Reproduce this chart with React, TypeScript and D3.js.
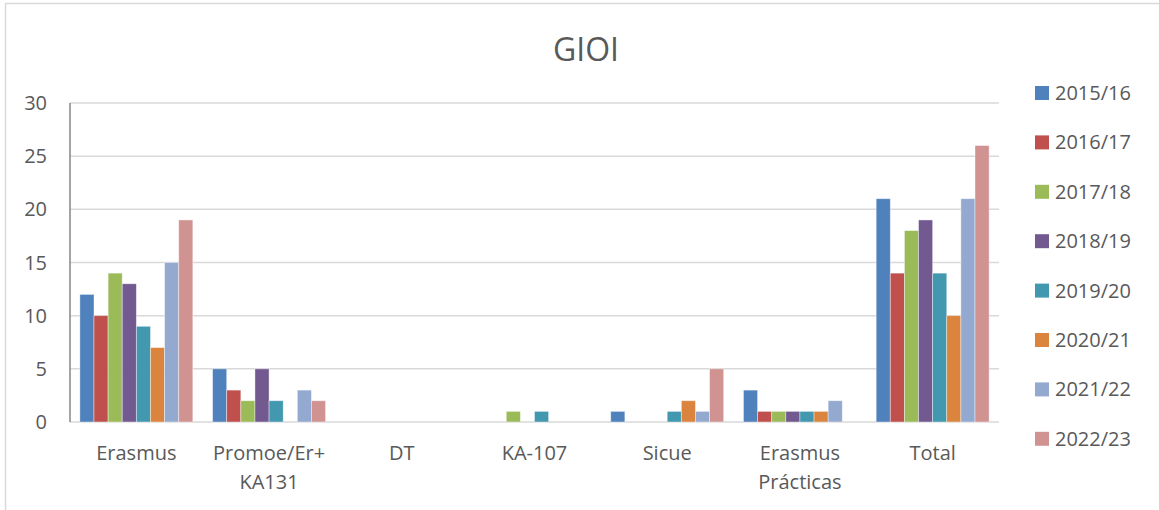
import React, { useEffect, useRef } from "react";
import * as d3 from "d3";

const categories = ["Erasmus", "Promoe/Er+\nKA131", "DT", "KA-107", "Sicue", "Erasmus\nPrácticas", "Total"];
const seriesNames = ["2015/16", "2016/17", "2017/18", "2018/19", "2019/20", "2020/21", "2021/22", "2022/23"];
const seriesColors = ["#4F81BD", "#C0504D", "#9BBB59", "#72598F", "#4198AF", "#DB843D", "#93A9CF", "#D19392"];
const values2015 = [12, 5, 0, 0, 1, 3, 21];
const values2016 = [10, 3, 0, 0, 0, 1, 14];
const values2017 = [14, 2, 0, 1, 0, 1, 18];
const values2018 = [13, 5, 0, 0, 0, 1, 19];
const values2019 = [9, 2, 0, 1, 1, 1, 14];
const values2020 = [7, 0, 0, 0, 2, 1, 10];
const values2021 = [15, 3, 0, 0, 1, 2, 21];
const values2022 = [19, 2, 0, 0, 5, 0, 26];
const yTicks = [0, 5, 10, 15, 20, 25, 30];

const seriesValues = [values2015, values2016, values2017, values2018, values2019, values2020, values2021, values2022];

const W = 1159;
const H = 510;
const FONT = "'Open Sans', 'Noto Sans', sans-serif";

export default function App() {
  const svgRef = useRef<SVGSVGElement>(null);

  useEffect(() => {
    if (!svgRef.current) return;
    const svg = d3.select(svgRef.current);
    svg.selectAll("*").remove();

    const plot = { left: 70, right: 999, top: 103, bottom: 422 };

    // chart frame
    svg.append("rect")
      .attr("x", 5.5).attr("y", 3.5)
      .attr("width", W + 20).attr("height", H + 20)
      .attr("fill", "#fff")
      .attr("stroke", "#d9d9d9").attr("stroke-width", 1.5);

    const x0 = d3.scaleBand<string>()
      .domain(categories)
      .range([plot.left, plot.right])
      .paddingInner(0);

    const x1 = d3.scaleBand<string>()
      .domain(seriesNames)
      .range([0, x0.bandwidth()])
      .paddingInner(0)
      .paddingOuter(0.7);

    const y = d3.scaleLinear().domain([0, 30]).range([plot.bottom, plot.top]);

    // grid
    svg.append("g")
      .selectAll("line")
      .data(yTicks)
      .enter()
      .append("line")
      .attr("x1", plot.left).attr("x2", plot.right)
      .attr("y1", d => y(d)).attr("y2", d => y(d))
      .attr("stroke", "#d9d9d9")
      .attr("stroke-width", 1.5);

    // y labels
    svg.append("g")
      .selectAll("text")
      .data(yTicks)
      .enter()
      .append("text")
      .attr("x", 47)
      .attr("y", d => y(d))
      .attr("dy", "0.35em")
      .attr("text-anchor", "end")
      .attr("fill", "#595959")
      .style("font-family", FONT)
      .style("font-size", "20px")
      .text(d => d);

    // bars
    const groups = svg.append("g")
      .selectAll("g")
      .data(seriesNames)
      .enter()
      .append("g")
      .attr("fill", (_, i) => seriesColors[i]);

    groups.each(function (name, si) {
      d3.select(this)
        .selectAll("rect")
        .data(categories.map((c, ci) => ({ c, v: seriesValues[si][ci] })).filter(d => d.v > 0))
        .enter()
        .append("rect")
        .attr("x", d => (x0(d.c) ?? 0) + (x1(name) ?? 0))
        .attr("y", d => y(d.v))
        .attr("width", x1.bandwidth())
        .attr("height", d => y(0) - y(d.v))
        .attr("stroke", "rgba(255,255,255,0.5)")
        .attr("stroke-width", 0.8);
    });

    // y axis line
    svg.append("line")
      .attr("x1", plot.left).attr("x2", plot.left)
      .attr("y1", plot.top).attr("y2", plot.bottom)
      .attr("stroke", "#868686").attr("stroke-width", 1.5);

    // x labels
    const xl = svg.append("g")
      .selectAll("text")
      .data(categories)
      .enter()
      .append("text")
      .attr("x", d => (x0(d) ?? 0) + x0.bandwidth() / 2)
      .attr("y", 460)
      .attr("text-anchor", "middle")
      .attr("fill", "#595959")
      .style("font-family", FONT)
      .style("font-size", "20px");
    xl.each(function (d) {
      const lines = d.split("\n");
      const t = d3.select(this);
      lines.forEach((ln, i) => {
        t.append("tspan")
          .attr("x", t.attr("x"))
          .attr("dy", i === 0 ? 0 : 29)
          .text(ln);
      });
    });

    // title
    svg.append("text")
      .attr("x", 586)
      .attr("y", 61)
      .attr("text-anchor", "middle")
      .attr("fill", "#595959")
      .style("font-family", FONT)
      .style("font-size", "32px")
      .text("GIOI");

    // legend
    const leg = svg.append("g")
      .selectAll("g")
      .data(seriesNames)
      .enter()
      .append("g")
      .attr("transform", (_, i) => `translate(1035,${93 + i * 49.4})`);
    leg.append("rect")
      .attr("x", 0).attr("y", -7)
      .attr("width", 14).attr("height", 14)
      .attr("fill", (_, i) => seriesColors[i]);
    leg.append("text")
      .attr("x", 20)
      .attr("y", 0)
      .attr("dy", "0.35em")
      .attr("fill", "#595959")
      .style("font-family", FONT)
      .style("font-size", "20px")
      .text(d => d);
  }, []);

  return (
    <div style={{ position: "absolute", left: 0, top: 0, width: W, height: H, overflow: "hidden", background: "#fff" }}>
      <svg ref={svgRef} width={W} height={H} />
    </div>
  );
}
